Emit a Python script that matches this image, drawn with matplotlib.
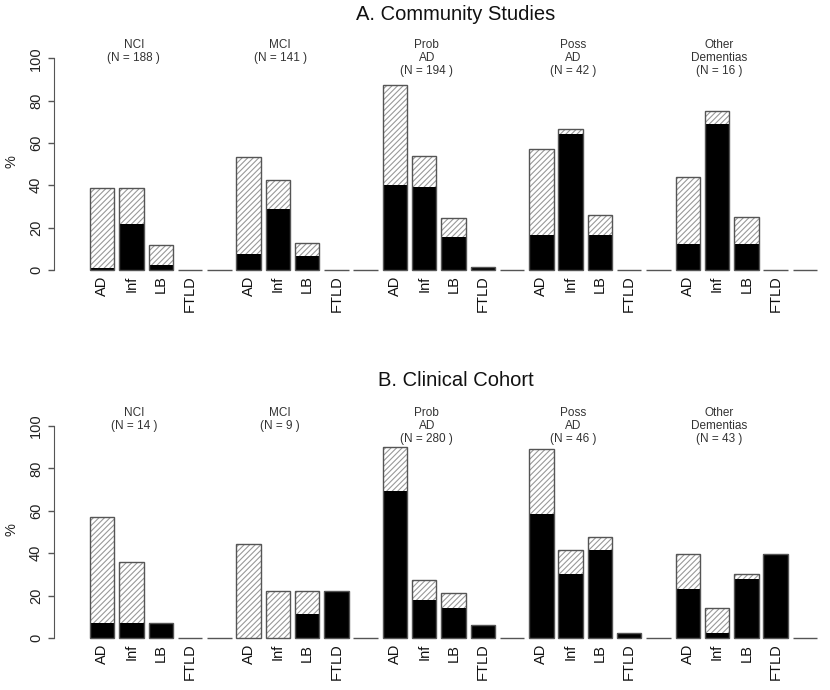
import matplotlib
matplotlib.use("Agg")
import matplotlib.pyplot as plt
import numpy as np

plt.rcParams['font.family'] = ['Liberation Sans', 'DejaVu Sans']
plt.rcParams['hatch.linewidth'] = 0.8

# Pathology categories shown under each clinical group
categories = ['AD', 'Inf', 'LB', 'FTLD']

# A. Community Studies
groups_a = ['NCI\n(N = 188 )', 'MCI\n(N = 141 )', 'Prob\nAD\n(N = 194 )',
            'Poss\nAD\n(N = 42 )', 'Other\nDementias\n(N = 16 )']
total_a = [[38.6, 38.6, 11.8, 0], [53.2, 42.6, 12.8, 0], [87.6, 53.9, 24.7, 1.3],
           [57.1, 66.7, 26.2, 0], [43.75, 75.0, 25.0, 0]]
black_a = [[0.8, 21.6, 2.4, 0], [7.4, 29.0, 6.8, 0], [40.2, 39.2, 15.5, 1.3],
           [16.7, 64.3, 16.7, 0], [12.5, 68.75, 12.5, 0]]

# B. Clinical Cohort
groups_b = ['NCI\n(N = 14 )', 'MCI\n(N = 9 )', 'Prob\nAD\n(N = 280 )',
            'Poss\nAD\n(N = 46 )', 'Other\nDementias\n(N = 43 )']
total_b = [[57.1, 35.7, 7.1, 0], [44.4, 22.2, 22.2, 22.2], [90.0, 27.5, 21.4, 6.1],
           [89.1, 41.3, 47.8, 2.2], [39.5, 14.0, 30.2, 39.5]]
black_b = [[7.1, 7.1, 7.1, 0], [0, 0, 11.1, 22.2], [69.3, 17.9, 14.3, 6.1],
           [58.7, 30.4, 41.3, 2.2], [23.3, 2.3, 27.9, 39.5]]

fig = plt.figure(figsize=(8.3, 6.9), dpi=100)


def panel(ax, groups, totals, blacks):
    # each group = 4 bars + 1 empty spacer bar, R barplot style spacing
    tot = []
    blk = []
    for t, b in zip(totals, blacks):
        tot += list(t) + [0]
        blk += list(b) + [0]
    x = 0.7 + 1.2 * np.arange(len(tot))

    ax.bar(x, tot, width=1, facecolor='white', hatch='//////',
           edgecolor='#999999', linewidth=0)
    ax.bar(x, blk, width=1, color='black', linewidth=0)
    ax.bar(x, tot, width=1, facecolor='none', edgecolor='#555555',
           linewidth=1.0, clip_on=False)

    real = [i for i in range(len(tot)) if i % 5 != 4]
    ax.set_xticks(x[real])
    ax.set_xticklabels(categories * len(groups), rotation=90,
                       va='top', fontsize=10.5, color='#111111')
    ax.tick_params(axis='x', length=0, pad=1)

    for g, name in enumerate(groups):
        ax.text(x[g * 5 + 1] + 0.1, 109, name, ha='center', va='top',
                fontsize=8.5, linespacing=1.1, color='#333333', clip_on=False)

    ax.set_xlim(-1.275, 30.3)
    ax.set_ylim(-2, 104)
    ax.set_yticks([0, 20, 40, 60, 80, 100])
    ax.set_yticklabels(['0', '20', '40', '60', '80', '100'], rotation=90,
                       va='center', fontsize=10.5, color='#222222')
    ax.tick_params(axis='y', length=4, width=1, color='#555555', pad=4)
    for s in ['top', 'right', 'bottom']:
        ax.spines[s].set_visible(False)
    ax.spines['left'].set_bounds(0, 100)
    ax.spines['left'].set_color('#555555')
    ax.set_ylabel('%', fontsize=10.5, color='#222222')
    ax.yaxis.set_label_coords(-0.046, 0.5)
    ax.patch.set_alpha(0)


ax1 = fig.add_axes([54 / 830, 0.6026, 770.4 / 830, 0.3252])
panel(ax1, groups_a, total_a, black_a)
ax2 = fig.add_axes([54 / 830, 0.0692, 770.4 / 830, 0.3257])
panel(ax2, groups_b, total_b, black_b)

fig.text(456 / 830, 1 - 14 / 690, 'A. Community Studies', ha='center',
         va='center', fontsize=14.5, color='#111111')
fig.text(456 / 830, 1 - 380 / 690, 'B. Clinical Cohort', ha='center',
         va='center', fontsize=14.5, color='#111111')

fig.savefig('out.png', dpi=100, facecolor='white')
